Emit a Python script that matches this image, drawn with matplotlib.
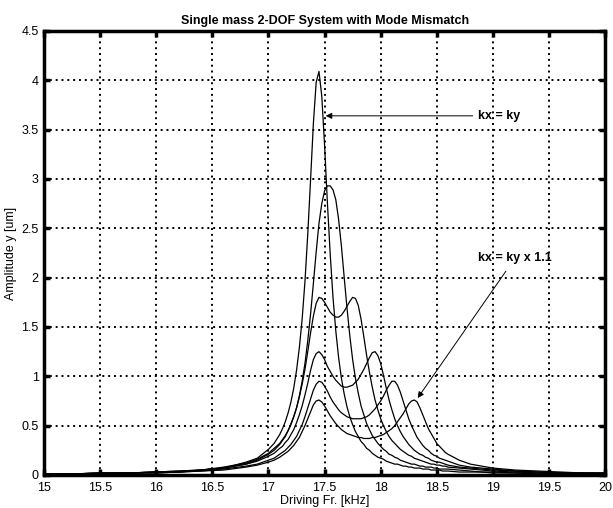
import numpy as np
import matplotlib
matplotlib.use("Agg")
import matplotlib.pyplot as plt

# driving frequency samples [kHz]
freq = np.concatenate([[15, 15.25, 15.5, 15.75, 16, 16.2, 16.4, 16.6, 16.8, 16.9, 17.0, 17.05],
                       np.round(np.arange(17.1, 18.6001, 0.025), 3),
                       [18.7, 18.8, 18.9, 19.0, 19.2, 19.4, 19.6, 19.8, 20.0]])

# amplitude y, in units of 0.01 um, one list per stiffness ratio
amp_matched = [1, 1, 1, 2, 3, 3, 5, 7, 13, 17, 26, 32, 41, 47, 54, 63, 74, 88, 106, 129,
               158, 196, 244, 299, 356, 398, 409, 384, 334, 276, 224, 180, 146, 119, 98, 82, 69, 59, 51, 44,
               39, 34, 31, 27, 25, 22, 20, 18, 17, 16, 14, 13, 12, 11, 11, 10, 9, 9, 8, 8,
               7, 7, 7, 6, 6, 6, 5, 5, 5, 5, 4, 4, 4, 3, 3, 3, 2, 2, 1, 1, 1, 1]
amp_2 = [1, 1, 2, 2, 3, 3, 5, 7, 11, 15, 21, 25, 31, 35, 39, 45, 51, 59, 68, 80,
         95, 113, 136, 163, 194, 226, 255, 275, 288, 293, 293, 289, 279, 259, 232, 200, 169, 141, 117, 98,
         83, 70, 61, 52, 46, 40, 36, 32, 29, 26, 24, 21, 20, 18, 17, 15, 14, 13, 12, 11,
         11, 10, 9, 9, 8, 8, 8, 7, 7, 6, 6, 6, 6, 5, 4, 3, 3, 2, 2, 1, 1, 1]
amp_3 = [1, 1, 2, 2, 3, 4, 5, 8, 12, 16, 22, 27, 32, 36, 40, 45, 52, 59, 68, 79,
         92, 107, 125, 144, 161, 174, 180, 179, 175, 170, 165, 162, 160, 160, 162, 166, 171, 176, 180, 179,
         172, 158, 140, 121, 104, 89, 76, 66, 57, 50, 44, 39, 35, 32, 29, 26, 24, 22, 20, 19,
         17, 16, 15, 14, 13, 12, 11, 11, 10, 10, 9, 9, 8, 7, 6, 5, 4, 3, 2, 2, 2, 1]
amp_4 = [1, 1, 2, 2, 3, 4, 5, 7, 11, 14, 19, 22, 27, 29, 33, 36, 41, 46, 53, 61,
         70, 81, 93, 106, 117, 123, 125, 122, 117, 110, 105, 100, 96, 93, 90, 89, 89, 90, 91, 94,
         97, 102, 107, 113, 119, 124, 125, 121, 113, 101, 88, 76, 66, 57, 50, 44, 39, 35, 31, 28,
         25, 23, 21, 20, 18, 17, 15, 14, 13, 13, 12, 11, 10, 8, 7, 6, 5, 4, 3, 2, 2, 2]
amp_5 = [1, 1, 2, 2, 2, 3, 4, 6, 9, 11, 15, 17, 21, 23, 25, 28, 31, 35, 39, 45,
         51, 59, 68, 77, 86, 92, 95, 94, 90, 85, 79, 74, 70, 66, 63, 61, 59, 58, 57, 57,
         57, 57, 58, 59, 61, 64, 67, 71, 75, 80, 86, 91, 95, 95, 91, 84, 75, 66, 57, 50,
         44, 38, 34, 30, 27, 25, 22, 20, 19, 17, 16, 15, 14, 10, 8, 7, 6, 4, 3, 2, 2, 2]
amp_11 = [1, 1, 1, 2, 2, 3, 4, 5, 8, 10, 13, 15, 18, 20, 22, 24, 27, 30, 34, 38,
          44, 50, 57, 64, 71, 75, 76, 74, 70, 65, 60, 56, 52, 49, 46, 44, 42, 41, 40, 39,
          38, 38, 37, 37, 37, 38, 38, 39, 40, 41, 43, 45, 47, 50, 54, 58, 62, 67, 72, 75,
          76, 74, 68, 61, 54, 47, 42, 37, 32, 29, 26, 23, 21, 15, 11, 9, 7, 5, 4, 3, 2, 2]

curves = [amp_matched, amp_2, amp_3, amp_4, amp_5, amp_11]

plt.rcParams['font.family'] = ['Liberation Sans', 'DejaVu Sans']

fig = plt.figure(figsize=(6.13, 5.08), dpi=100)
ax = fig.add_axes([0.072, 0.065, 0.915, 0.874])

for amp in curves:
    ax.plot(freq, np.array(amp) / 100.0, color='black', lw=0.9)

ax.set_xlim(15, 20)
ax.set_ylim(0, 4.5)
ax.set_xticks(np.arange(15, 20.01, 0.5))
ax.set_yticks(np.arange(0, 4.51, 0.5))
ax.set_xticklabels(['15', '15.5', '16', '16.5', '17', '17.5', '18', '18.5', '19', '19.5', '20'])
ax.set_yticklabels(['0', '0.5', '1', '1.5', '2', '2.5', '3', '3.5', '4', '4.5'])
ax.grid(True, color='black', linestyle=(0, (1, 2)), lw=1.4)
ax.tick_params(direction='in', length=4, width=2.5, labelsize=9, top=True, right=True)
ax.tick_params(axis='x', pad=5)
ax.tick_params(axis='y', pad=4)
for sp in ax.spines.values():
    sp.set_linewidth(2.5)

ax.set_title('Single mass 2-DOF System with Mode Mismatch', fontsize=9, fontweight='bold', pad=5)
ax.set_xlabel('Driving Fr. [kHz]', fontsize=9, labelpad=1)
ax.set_ylabel('Amplitude y [um]', fontsize=9, labelpad=3)

ax.annotate('kx = ky', xy=(17.51, 3.64), xytext=(18.87, 3.64), fontsize=9, fontweight='bold',
            va='center', ha='left',
            arrowprops=dict(arrowstyle='-|>', color='black', lw=0.7, mutation_scale=9,
                            shrinkA=2, shrinkB=0))
ax.annotate('kx = ky x 1.1', xy=(18.33, 0.78), xytext=(18.87, 2.2), fontsize=9, fontweight='bold',
            va='center', ha='left',
            arrowprops=dict(arrowstyle='-|>', color='black', lw=0.7, mutation_scale=9,
                            shrinkA=4, shrinkB=0))

fig.savefig('out.png', dpi=100)
